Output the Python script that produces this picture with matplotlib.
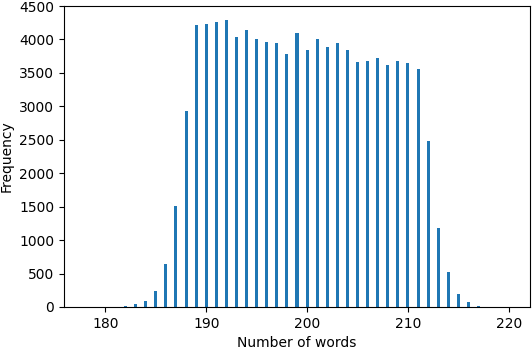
import matplotlib.pyplot as plt
import numpy as np

# number of words per item and how often it occurs
words = list(range(178, 221))
freq = [1, 1, 2, 4, 22, 40, 85, 233, 650, 1509, 2924,
        4210, 4225, 4255, 4285, 4032, 4136, 4012, 3962, 3942, 3788, 4096,
        3848, 4002, 3888, 3942, 3843, 3664, 3674, 3719, 3619, 3684, 3644,
        3555, 2483, 1182, 516, 189, 70, 20, 5, 2, 1]

fig = plt.figure(figsize=(5.32, 3.5), dpi=100)
ax = fig.add_axes([64 / 532, 43 / 350, 466 / 532, 301 / 350])

ax.bar(words, freq, width=0.3, color='#1f77b4')
ax.set_xlim(175.9, 222.1)
ax.set_ylim(0, 4500)
ax.set_xlabel('Number of words')
ax.set_ylabel('Frequency')

fig.savefig('out.png', dpi=100)
